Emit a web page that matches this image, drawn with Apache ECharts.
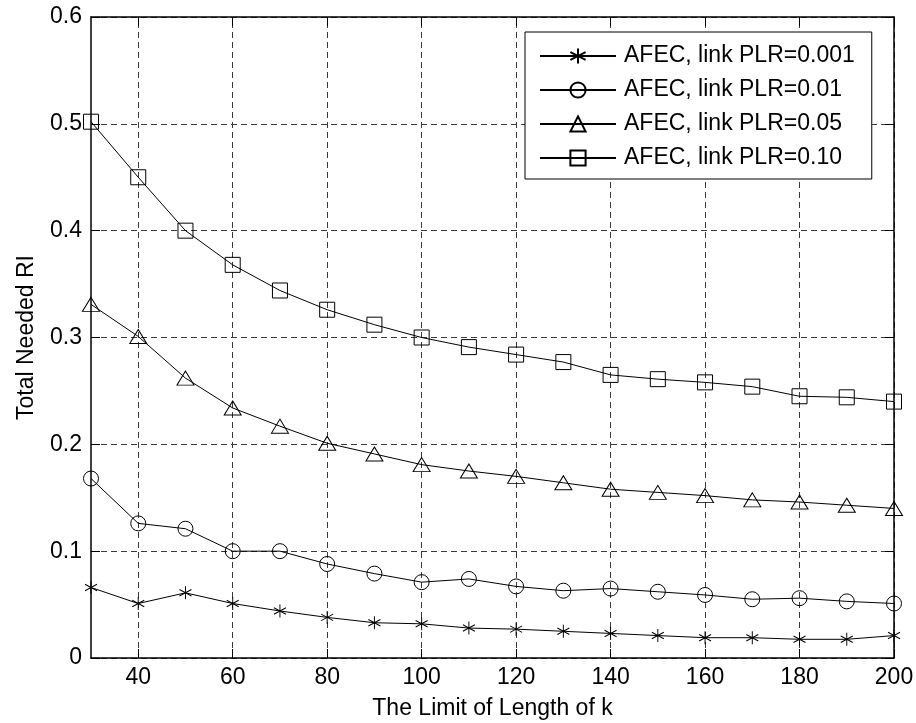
<!DOCTYPE html>
<html>
<head>
<meta charset="utf-8">
<script src="https://cdn.jsdelivr.net/npm/echarts@6/dist/echarts.min.js"></script>
<style>html,body{margin:0;padding:0;background:#fff;}#c{width:916px;height:723px;}</style>
</head>
<body>
<div id="c"></div>
<script>
const kValues = [30,40,50,60,70,80,90,100,110,120,130,140,150,160,170,180,190,200];
const plr0001 = [0.066,0.051,0.061,0.051,0.044,0.038,0.033,0.032,0.028,0.027,0.025,0.023,0.021,0.019,0.019,0.0175,0.0175,0.021];
const plr001  = [0.168,0.126,0.121,0.100,0.100,0.088,0.079,0.071,0.074,0.067,0.063,0.065,0.062,0.059,0.055,0.056,0.053,0.051];
const plr005  = [0.331,0.301,0.262,0.234,0.217,0.201,0.191,0.181,0.175,0.170,0.164,0.158,0.155,0.152,0.148,0.146,0.143,0.140];
const plr010  = [0.502,0.450,0.400,0.368,0.344,0.326,0.312,0.300,0.291,0.284,0.277,0.265,0.261,0.258,0.254,0.245,0.244,0.240];
const seriesNames = ['AFEC, link PLR=0.001','AFEC, link PLR=0.01','AFEC, link PLR=0.05','AFEC, link PLR=0.10'];
const xTicks = [40,60,80,100,120,140,160,180,200];
const yTicks = [0,0.1,0.2,0.3,0.4,0.5,0.6];

const FONT = 'Liberation Sans, Arial, Helvetica, sans-serif';
const asterisk = 'path://M0,-1L0,1M-0.866,-0.5L0.866,0.5M-0.866,0.5L0.866,-0.5';

function pairs(vals){ return kValues.map((k,i)=>[k, vals[i]]); }

const markerStyle = {color:'rgba(0,0,0,0)', borderColor:'#000', borderWidth:1};
function mkSeries(name, vals, symbol, size){
  return {
    name: name, type:'line', data: pairs(vals), symbol: symbol, symbolSize: size,
    showAllSymbol: true, z: 3,
    lineStyle:{color:'#000', width:1},
    itemStyle: markerStyle,
    emphasis:{disabled:true}
  };
}

const gridDash = {color:'#3a3a3a', width:1, type:[6,4]};

const option = {
  animation:false,
  backgroundColor:'#fff',
  grid:{left:91, right:22, top:17, bottom:65, containLabel:false, outerBoundsMode:'none'},
  legend:{
    z:50,
    orient:'vertical', left:525, top:32, width:352,
    data: seriesNames,
    itemWidth:76, itemHeight:19, itemGap:10,
    padding:[12,17,9,14],
    backgroundColor:'#fff', borderColor:'#000', borderWidth:1, borderRadius:0,
    textStyle:{fontFamily:FONT, fontSize:23, color:'#000', lineHeight:24, padding:[0,0,0,3]},
    selectedMode:false
  },
  xAxis:[{
    type:'value', min:30, max:200, position:'bottom',
    name:'The Limit of Length of k', nameLocation:'middle', nameGap:39,
    nameTextStyle:{fontFamily:FONT, fontSize:23, color:'#000'},
    axisLine:{show:true, onZero:false, lineStyle:{color:'#000', width:1.5}},
    axisTick:{show:true, inside:true, length:9, customValues:xTicks, lineStyle:{color:'#000'}},
    axisLabel:{show:true, customValues:xTicks, margin:8, fontFamily:FONT, fontSize:23, color:'#000'},
    splitLine:{show:false}
  },{
    type:'value', min:30, max:200, position:'top',
    axisLine:{show:true, onZero:false, lineStyle:{color:'#000', width:1.5}},
    axisTick:{show:true, inside:true, length:9, customValues:xTicks, lineStyle:{color:'#000'}},
    axisLabel:{show:false},
    splitLine:{show:false}
  }],
  yAxis:[{
    type:'value', min:0, max:0.6, interval:0.1, position:'left',
    name:'Total Needed RI', nameLocation:'middle', nameGap:53, nameRotate:90,
    nameTextStyle:{fontFamily:FONT, fontSize:23, color:'#000'},
    axisLine:{show:true, onZero:false, lineStyle:{color:'#000', width:1.5}},
    axisTick:{show:true, inside:true, length:9, lineStyle:{color:'#000'}},
    axisLabel:{show:true, margin:9, fontFamily:FONT, fontSize:23, color:'#000',
      formatter:function(v){ return v===0 ? '0' : v.toFixed(1); }},
    splitLine:{show:true, lineStyle:gridDash}
  },{
    type:'value', min:0, max:0.6, interval:0.1, position:'right',
    axisLine:{show:true, onZero:false, lineStyle:{color:'#000', width:1.5}},
    axisTick:{show:true, inside:true, length:9, lineStyle:{color:'#000'}},
    axisLabel:{show:false},
    splitLine:{show:false}
  }],
  series:[
    {
      type:'line', data:[], z:0, silent:true, name:'_grid',
      markLine:{silent:true, z:0, symbol:['none','none'], label:{show:false},
        lineStyle:gridDash, emphasis:{disabled:true},
        data: xTicks.map(v=>({xAxis:v}))}
    },
    mkSeries(seriesNames[0], plr0001, asterisk, [12,13]),
    mkSeries(seriesNames[1], plr001, 'circle', 15),
    mkSeries(seriesNames[2], plr005, 'triangle', [17,14]),
    mkSeries(seriesNames[3], plr010, 'rect', 15)
  ]
};
const chart = echarts.init(document.getElementById('c'), null, {renderer:'canvas'});
chart.setOption(option);
</script>
</body>
</html>
